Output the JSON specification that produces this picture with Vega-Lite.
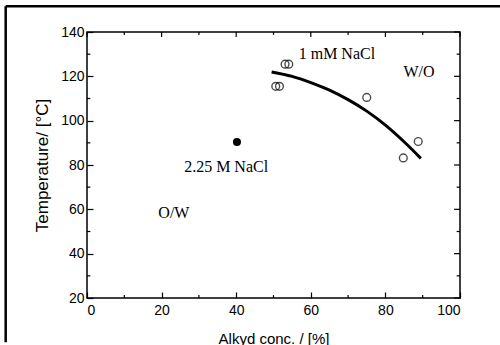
{
  "$schema": "https://vega.github.io/schema/vega-lite/v6.json",
  "width": 373,
  "height": 266,
  "autosize": {"type": "none"},
  "padding": {"left": 87, "top": 32, "right": 40, "bottom": 47},
  "background": "white",
  "config": {
    "view": {"stroke": "black", "strokeWidth": 1.5},
    "axis": {"labelFont": "Liberation Sans", "titleFont": "Liberation Sans", "labelFontSize": 14, "titleFontSize": 15, "titleFontWeight": "normal", "labelColor": "black", "titleColor": "black", "domain": false, "grid": false, "tickColor": "black", "tickWidth": 1.2}
  },
  "datasets": {
    "open": [
      {"x": 50.6, "y": 115.5},
      {"x": 51.6, "y": 115.5},
      {"x": 53.1, "y": 125.5},
      {"x": 54.1, "y": 125.5},
      {"x": 75, "y": 110.5},
      {"x": 84.8, "y": 83.2},
      {"x": 88.8, "y": 90.6}
    ],
    "filled": [{"x": 40.2, "y": 90.4}],
    "curve": [
      {"x": 49.5, "y": 122},
      {"x": 55, "y": 120},
      {"x": 60, "y": 117.2},
      {"x": 65, "y": 113.8},
      {"x": 70, "y": 109.5},
      {"x": 75, "y": 104.3},
      {"x": 80, "y": 98},
      {"x": 85, "y": 90.5},
      {"x": 89.5, "y": 83}
    ],
    "labels": [
      {"x": 67, "y": 130.2, "t": "1 mM NaCl"},
      {"x": 89, "y": 121.8, "t": "W/O"},
      {"x": 37.3, "y": 79, "t": "2.25 M NaCl"},
      {"x": 23.3, "y": 58.3, "t": "O/W"}
    ],
    "ticksx": [{"v": 10}, {"v": 30}, {"v": 50}, {"v": 70}, {"v": 90}],
    "ticksy": [{"v": 30}, {"v": 50}, {"v": 70}, {"v": 90}, {"v": 110}, {"v": 130}]
  },
  "layer": [
    {
      "data": {"name": "open"},
      "mark": {"type": "point", "shape": "circle", "filled": false, "color": "black", "size": 60, "strokeWidth": 1.4},
      "encoding": {
        "x": {"field": "x", "type": "quantitative", "scale": {"domain": [0, 100], "nice": false, "zero": false},
          "axis": {"title": "Alkyd conc. / [%]", "values": [0, 20, 40, 60, 80, 100], "tickSize": -6, "labelPadding": 11, "titlePadding": 14, "titleFontSize": 15}},
        "y": {"field": "y", "type": "quantitative", "scale": {"domain": [20, 140], "nice": false, "zero": false},
          "axis": {"title": "Temperature/ [°C]", "values": [20, 40, 60, 80, 100, 120, 140], "tickSize": -6, "labelPadding": 9, "titlePadding": 9, "titleFontSize": 17}}
      }
    },
    {
      "data": {"name": "filled"},
      "mark": {"type": "point", "shape": "circle", "filled": true, "color": "black", "size": 65, "opacity": 1},
      "encoding": {
        "x": {"field": "x", "type": "quantitative"},
        "y": {"field": "y", "type": "quantitative"}
      }
    },
    {
      "data": {"name": "curve"},
      "mark": {"type": "line", "color": "black", "strokeWidth": 3, "interpolate": "monotone"},
      "encoding": {
        "x": {"field": "x", "type": "quantitative"},
        "y": {"field": "y", "type": "quantitative"}
      }
    },
    {
      "data": {"name": "labels"},
      "mark": {"type": "text", "font": "Liberation Serif", "fontSize": 16, "color": "black"},
      "encoding": {
        "x": {"field": "x", "type": "quantitative"},
        "y": {"field": "y", "type": "quantitative"},
        "text": {"field": "t"}
      }
    },
    {
      "data": {"name": "ticksx"},
      "mark": {"type": "rule", "color": "black", "strokeWidth": 1.2},
      "encoding": {
        "x": {"field": "v", "type": "quantitative"},
        "y": {"datum": 20},
        "y2": {"datum": 21.3}
      }
    },
    {
      "data": {"name": "ticksx"},
      "mark": {"type": "rule", "color": "black", "strokeWidth": 1.2},
      "encoding": {
        "x": {"field": "v", "type": "quantitative"},
        "y": {"datum": 138.7},
        "y2": {"datum": 140}
      }
    },
    {
      "data": {"name": "ticksy"},
      "mark": {"type": "rule", "color": "black", "strokeWidth": 1.2},
      "encoding": {
        "y": {"field": "v", "type": "quantitative"},
        "x": {"datum": 0},
        "x2": {"datum": 0.9}
      }
    },
    {
      "data": {"name": "ticksy"},
      "mark": {"type": "rule", "color": "black", "strokeWidth": 1.2},
      "encoding": {
        "y": {"field": "v", "type": "quantitative"},
        "x": {"datum": 99.1},
        "x2": {"datum": 100}
      }
    },
    {
      "data": {"values": [{"v": 20}, {"v": 40}, {"v": 60}, {"v": 80}, {"v": 100}, {"v": 120}, {"v": 140}]},
      "mark": {"type": "rule", "color": "black", "strokeWidth": 1.2},
      "encoding": {
        "y": {"field": "v", "type": "quantitative"},
        "x": {"datum": 98.4},
        "x2": {"datum": 100}
      }
    },
    {
      "data": {"values": [{"v": 0}, {"v": 20}, {"v": 40}, {"v": 60}, {"v": 80}, {"v": 100}]},
      "mark": {"type": "rule", "color": "black", "strokeWidth": 1.2},
      "encoding": {
        "x": {"field": "v", "type": "quantitative"},
        "y": {"datum": 137.7},
        "y2": {"datum": 140}
      }
    },
    {
      "data": {"values": [{"x": -21.8, "x2": -21.8, "y": 0, "y2": 151.6}, {"x": -21.8, "x2": 115, "y": 151.6, "y2": 151.6}]},
      "mark": {"type": "rule", "color": "black", "strokeWidth": 2.5, "clip": false},
      "encoding": {
        "x": {"field": "x", "type": "quantitative"},
        "x2": {"field": "x2"},
        "y": {"field": "y", "type": "quantitative"},
        "y2": {"field": "y2"}
      }
    }
  ]
}
